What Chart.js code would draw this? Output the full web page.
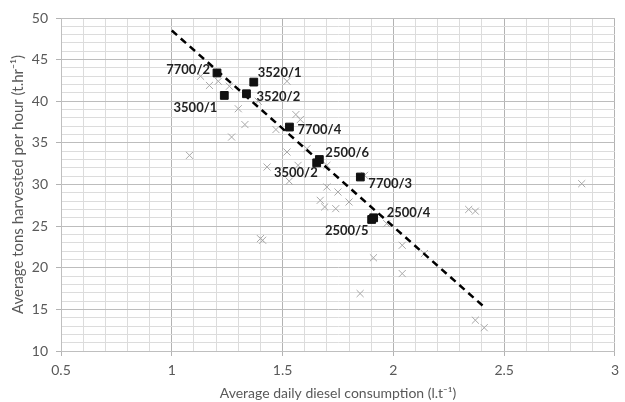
<!DOCTYPE html>
<html>
<head>
<meta charset="utf-8">
<script src="https://cdn.jsdelivr.net/npm/chart.js@4"></script>
<style>
  html, body { margin: 0; padding: 0; background: #fff; }
  #wrap { width: 625px; height: 402px; }
</style>
</head>
<body>
<div id="wrap"><canvas id="chart" width="625" height="402"></canvas></div>
<script>
// labelled machines (black squares)
const labelNames = ['7700/2', '3520/1', '3500/1', '3520/2', '7700/4', '2500/6', '3500/2', '7700/3', '2500/4', '2500/5'];
const labelX = [1.204, 1.370, 1.237, 1.337, 1.531, 1.666, 1.654, 1.851, 1.911, 1.902];
const labelY = [43.4, 42.3, 40.7, 40.9, 36.9, 33.0, 32.6, 30.9, 26.0, 25.8];

// other observations (grey crosses)
const crossX = [1.08, 1.13, 1.17, 1.21, 1.26, 1.30, 1.33, 1.27, 1.39, 1.52, 1.56, 1.58, 1.47, 1.52, 1.61,
  1.43, 1.57, 1.53, 1.40, 1.41, 1.70, 1.70, 1.75, 1.67, 1.69, 1.74, 1.80, 1.87, 1.97, 2.04,
  1.91, 2.14, 2.04, 1.85, 2.34, 2.37, 2.85, 2.37, 2.41];
const crossY = [33.5, 43.0, 41.9, 42.4, 41.8, 39.1, 37.2, 35.7, 40.0, 42.4, 38.4, 37.8, 36.6, 33.9, 34.3,
  32.1, 32.3, 30.4, 23.5, 23.3, 32.3, 29.7, 29.1, 28.1, 27.3, 27.1, 27.9, 31.1, 25.3, 22.7,
  21.2, 21.7, 19.3, 16.9, 27.0, 26.8, 30.1, 13.7, 12.8];

// linear trend line end points
const trendX = [1.0, 2.405];
const trendY = [48.5, 15.4];

// axis ranges / ticks
const xTicks = [0.5, 1, 1.5, 2, 2.5, 3];
const yTicks = [10, 15, 20, 25, 30, 35, 40, 45, 50];

const FONT = 'Lato, "Open Sans", sans-serif';
const pts = (xs, ys) => xs.map((x, i) => ({ x: x, y: ys[i] }));

// where each label sits relative to its square
const labelPlace = {
  '7700/2': ['right', -7, -3],
  '3520/1': ['left', 4, -9],
  '3500/1': ['right', -7, 12],
  '3520/2': ['left', 10, 3],
  '7700/4': ['left', 8, 3],
  '2500/6': ['left', 6, -7],
  '3500/2': ['right', 1, 10],
  '7700/3': ['left', 8, 7],
  '2500/4': ['left', 13, -5],
  '2500/5': ['right', -3, 11]
};

const pointLabels = {
  id: 'pointLabels',
  afterDatasetsDraw(chart) {
    const ctx = chart.ctx;
    const xs = chart.scales.x, ys = chart.scales.y;
    ctx.save();
    ctx.font = 'bold 13px ' + FONT;
    ctx.fillStyle = '#222';
    ctx.textBaseline = 'middle';
    labelNames.forEach((name, i) => {
      const p = labelPlace[name];
      const px = xs.getPixelForValue(labelX[i]);
      const py = ys.getPixelForValue(labelY[i]);
      ctx.textAlign = p[0];
      ctx.fillText(name, px + p[1], py + p[2]);
    });
    ctx.restore();
  }
};

const isMajor = (v, step) => Math.abs(v / step - Math.round(v / step)) < 1e-6;

new Chart(document.getElementById('chart'), {
  type: 'scatter',
  data: {
    datasets: [
      {
        label: 'labelled',
        data: pts(labelX, labelY),
        pointStyle: 'rect',
        pointRadius: 5.5,
        backgroundColor: '#111',
        borderColor: '#111',
        borderWidth: 1,
        order: 0
      },
      {
        type: 'line',
        label: 'trend',
        data: pts(trendX, trendY),
        borderColor: '#000',
        borderWidth: 2.5,
        borderDash: [7, 5],
        pointRadius: 0,
        fill: false,
        order: 1
      },
      {
        label: 'other',
        data: pts(crossX, crossY),
        pointStyle: 'crossRot',
        pointRadius: 5,
        borderColor: '#a8a8a8',
        borderWidth: 1,
        order: 2
      }
    ]
  },
  options: {
    responsive: false,
    animation: false,
    layout: { padding: { top: 18, right: 1, left: 0, bottom: 0 } },
    plugins: {
      legend: { display: false },
      tooltip: { enabled: false }
    },
    scales: {
      x: {
        type: 'linear',
        min: xTicks[0],
        max: xTicks[xTicks.length - 1],
        afterFit: s => { s.height = 51; },
        ticks: {
          stepSize: 0.1,
          autoSkip: false,
          maxRotation: 0,
          padding: 6,
          color: '#595959',
          font: { family: FONT, size: 14 },
          callback: v => isMajor(v, 0.5) ? String(Math.round(v * 10) / 10) : ''
        },
        grid: {
          color: c => isMajor(c.tick.value, 0.5) ? '#b3b3b3' : '#dcdcdc',
          tickColor: c => isMajor(c.tick.value, 0.5) ? '#b3b3b3' : 'rgba(0,0,0,0)',
          tickLength: 5
        },
        border: { color: '#bfbfbf' },
        title: {
          display: true,
          text: 'Average daily diesel consumption (l.t\u207B\u00B9)',
          color: '#595959',
          font: { family: FONT, size: 14 },
          padding: { top: 2, bottom: 0 }
        }
      },
      y: {
        type: 'linear',
        min: yTicks[0],
        max: yTicks[yTicks.length - 1],
        afterFit: s => { s.width = 61; },
        ticks: {
          stepSize: 1,
          autoSkip: false,
          padding: 8,
          color: '#595959',
          font: { family: FONT, size: 14 },
          callback: v => isMajor(v, 5) ? String(Math.round(v)) : ''
        },
        grid: {
          color: c => isMajor(c.tick.value, 5) ? '#bdbdbd' : '#dcdcdc',
          tickColor: c => isMajor(c.tick.value, 5) ? '#b3b3b3' : 'rgba(0,0,0,0)',
          tickLength: 5
        },
        border: { color: '#bfbfbf' },
        title: {
          display: true,
          text: 'Average tons harvested per hour (t.hr\u207B\u00B9)',
          color: '#595959',
          font: { family: FONT, size: 15 },
          padding: { top: 9, bottom: 2 }
        }
      }
    }
  },
  plugins: [pointLabels]
});
</script>
</body>
</html>
